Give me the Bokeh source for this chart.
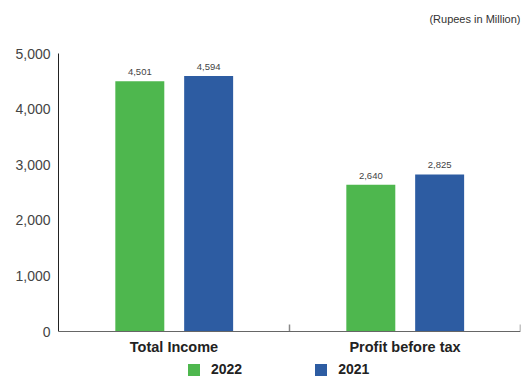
from bokeh.plotting import figure
from bokeh.models import (ColumnDataSource, FactorRange, Range1d, FixedTicker, NumeralTickFormatter,
                          Legend, LegendItem, Label, Span, LinearAxis)
from bokeh.transform import dodge
from bokeh.embed import file_html
from bokeh.resources import INLINE
from bokeh.core.properties import value

categories = ["Total Income", "Profit before tax"]
values_2022 = [4501, 2640]
values_2021 = [4594, 2825]
series_names = ["2022", "2021"]
y_ticks = [0, 1000, 2000, 3000, 4000, 5000]
unit_note = "(Rupees in Million)"

GREEN = "#4EB74E"
BLUE = "#2D5CA2"
FONT = "Liberation Sans"

W, H = 522, 377
LEFT, RIGHT = 58, 2
Y0_PX, YMAX_PX = 331, 53          # pixel rows of value 0 and 5000 (from top)
YMAX = y_ticks[-1]
upp = YMAX / (Y0_PX - YMAX_PX)    # data units per pixel
y_start = -(H - Y0_PX) * upp
y_end = YMAX + YMAX_PX * upp
TICK_LEN = 7 * upp

src = ColumnDataSource(dict(
    cat=categories,
    zero=[0] * len(categories),
    v22=values_2022,
    v21=values_2021,
    l22=[f"{v:,}" for v in values_2022],
    l21=[f"{v:,}" for v in values_2021],
))

p = figure(width=W, height=H, x_range=FactorRange(*categories), y_range=Range1d(y_start, y_end),
           output_backend="svg", toolbar_location=None, x_axis_location=None, y_axis_location=None,
           min_border_left=LEFT, min_border_right=RIGHT, min_border_top=0, min_border_bottom=0)
p.outline_line_color = None
p.xgrid.grid_line_color = None
p.ygrid.grid_line_color = None
p.background_fill_color = "white"

r22 = p.vbar(x=dodge("cat", -0.148, range=p.x_range), top="v22", width=0.212, source=src,
             fill_color=GREEN, line_color=None)
r21 = p.vbar(x=dodge("cat", 0.15, range=p.x_range), top="v21", width=0.212, source=src,
             fill_color=BLUE, line_color=None)

p.text(x=dodge("cat", -0.148, range=p.x_range), y="v22", text="l22", source=src,
       text_align="center", text_baseline="bottom", y_offset=-6,
       text_font=value(FONT), text_font_size="9.5px", text_color="#444444")
p.text(x=dodge("cat", 0.15, range=p.x_range), y="v21", text="l21", source=src,
       text_align="center", text_baseline="bottom", y_offset=-6,
       text_font=value(FONT), text_font_size="9.5px", text_color="#444444")

# category boundary ticks (pointing up from the baseline)
bounds = list(range(1, len(categories) + 1))
p.segment(x0=bounds, y0=[0] * len(bounds), x1=bounds, y1=[TICK_LEN] * len(bounds),
          line_color="#888888", line_width=1.5)

# x axis baseline
p.add_layout(Span(location=0, dimension="width", line_color="#666666", line_width=1))

# category labels
p.text(x="cat", y="zero", text="cat", source=src, text_align="center", text_baseline="top",
       y_offset=7, text_font=value(FONT), text_font_style="bold", text_font_size="14.5px",
       text_color="#222222")

# y axis
ya = LinearAxis(bounds=(0, YMAX))
ya.ticker = FixedTicker(ticks=y_ticks)
ya.formatter = NumeralTickFormatter(format="0,0")
ya.major_tick_line_color = None
ya.major_tick_out = 0
ya.major_tick_in = 0
ya.minor_tick_line_color = None
ya.axis_line_color = "#222222"
ya.major_label_standoff = 8
ya.major_label_text_font = FONT
ya.major_label_text_font_size = "14px"
ya.major_label_text_color = "#444444"
p.add_layout(ya, "left")

note = Label(x=W - LEFT - RIGHT, y=H - 18, x_units="screen", y_units="screen", text=unit_note,
             text_align="right", text_baseline="middle", text_font=FONT,
             text_font_size="11px", text_color="#333333")
p.add_layout(note)

legend = Legend(items=[LegendItem(label=series_names[0], renderers=[r22]),
                       LegendItem(label=series_names[1], renderers=[r21])],
                orientation="horizontal", location=(186 - LEFT, 0),
                padding=0, margin=0, spacing=71, label_standoff=10,
                glyph_width=15, glyph_height=15, border_line_color=None,
                background_fill_alpha=0, label_text_font=FONT,
                label_text_font_style="bold", label_text_font_size="14px",
                label_text_color="#222222")
p.add_layout(legend)

open("out.html", "w").write(file_html(p, INLINE))
